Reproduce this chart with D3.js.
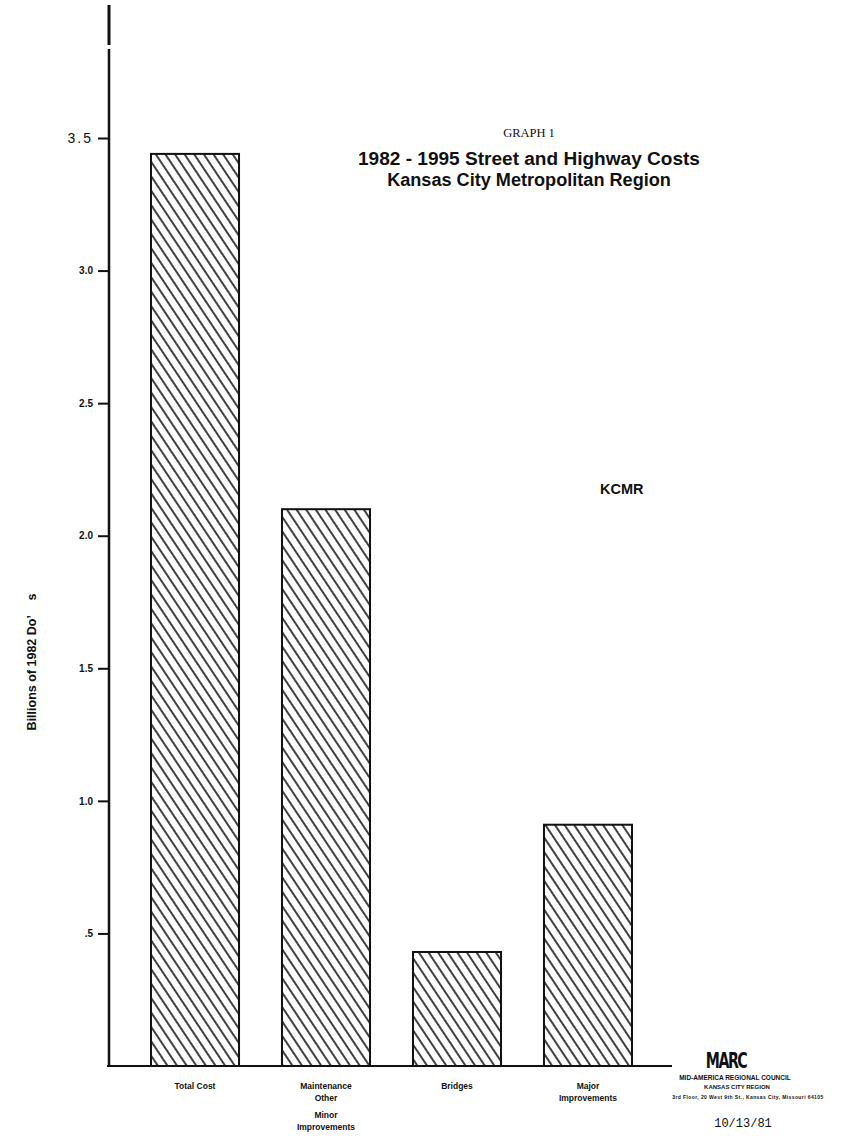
<!DOCTYPE html>
<html>
<head>
<meta charset="utf-8">
<script src="https://cdn.jsdelivr.net/npm/d3@7/dist/d3.min.js"></script>
<style>
  html, body { margin: 0; padding: 0; background: #fff; }
  svg { display: block; }
  text { fill: #111; }
</style>
</head>
<body>
<script>
// Street and highway cost categories, billions of 1982 dollars
const categories = ["Total Cost", "Maintenance Other Minor Improvements", "Bridges", "Major Improvements"];
const values = [3.44, 2.1, 0.43, 0.91];
const categoryLabelLines = [
  ["Total Cost"],
  ["Maintenance", "Other", null, "Minor", "Improvements"],
  ["Bridges"],
  ["Major", "Improvements"]
];
const tickValues = [0.5, 1.0, 1.5, 2.0, 2.5, 3.0, 3.5];
const tickLabels = [".5", "1.0", "1.5", "2.0", "2.5", "3.0", "3.5"];

const W = 841, H = 1142;
const svg = d3.select("body").append("svg").attr("width", W).attr("height", H);

// diagonal hatching used to fill every bar
const defs = svg.append("defs");
const hatch = defs.append("pattern")
  .attr("id", "hatch")
  .attr("patternUnits", "userSpaceOnUse")
  .attr("width", 8).attr("height", 8)
  .attr("patternTransform", "rotate(-33.7)");
hatch.append("rect").attr("width", 8).attr("height", 8).attr("fill", "#fff");
hatch.append("line")
  .attr("x1", 4).attr("y1", -1).attr("x2", 4).attr("y2", 9)
  .attr("stroke", "#111").attr("stroke-width", 1.6);

const x = d3.scaleBand().domain(categories).range([151, 632]).paddingInner(0.328).paddingOuter(0);
const y = d3.scaleLinear().domain([0, 3.5]).range([1066, 138]);
const axisX = 109;
const sans = "'Liberation Sans', Arial, Helvetica, sans-serif";

// bars
svg.append("g").selectAll("rect")
  .data(categories)
  .join("rect")
  .attr("x", d => x(d))
  .attr("y", (d, i) => y(values[i]))
  .attr("width", x.bandwidth())
  .attr("height", (d, i) => y(0) - y(values[i]))
  .attr("fill", "url(#hatch)")
  .attr("stroke", "#111")
  .attr("stroke-width", 2);

// vertical axis
const yAxis = svg.append("g")
  .attr("transform", `translate(${axisX},0)`)
  .call(d3.axisLeft(y).tickValues(tickValues)
    .tickFormat((d, i) => tickLabels[i]).tickSize(11).tickPadding(5));
yAxis.select(".domain").remove();
yAxis.selectAll(".tick line").attr("stroke", "#111").attr("stroke-width", 2);
yAxis.selectAll(".tick text")
  .attr("font-family", sans)
  .attr("font-weight", "bold")
  .attr("font-size", 10)
  .attr("fill", "#111");
yAxis.selectAll(".tick text").filter(d => d === 3.5)
  .attr("font-weight", "normal")
  .attr("font-size", 14)
  .attr("letter-spacing", "2px");

// axis spine, with the break near the top
svg.append("line").attr("x1", axisX).attr("x2", axisX).attr("y1", 5).attr("y2", 45)
  .attr("stroke", "#111").attr("stroke-width", 3);
svg.append("line").attr("x1", axisX).attr("x2", axisX).attr("y1", 49).attr("y2", y(0) + 1)
  .attr("stroke", "#111").attr("stroke-width", 2.5);

// baseline
svg.append("line").attr("x1", axisX - 2).attr("x2", 672).attr("y1", y(0)).attr("y2", y(0))
  .attr("stroke", "#111").attr("stroke-width", 2);

// category labels under the bars
const lab = svg.append("g").attr("font-family", sans).attr("font-weight", "bold").attr("font-size", 8.5);
categories.forEach((c, i) => {
  const cx = x(c) + x.bandwidth() / 2;
  const lines = categoryLabelLines[i];
  const t = lab.append("text").attr("text-anchor", "middle").attr("y", 1089);
  let off = 0;
  lines.forEach((ln) => {
    if (ln === null) { off += 5; return; }
    t.append("tspan").attr("x", cx).attr("y", 1089 + off).text(ln);
    off += 12;
  });
});

// y-axis title
svg.append("text")
  .attr("transform", "translate(36,662) rotate(-90)")
  .attr("text-anchor", "middle")
  .attr("font-family", sans).attr("font-weight", "bold").attr("font-size", 12.5)
  .text("Billions of 1982 Do\u2019")
  .append("tspan").attr("dx", 15).text("s");

// title block
const cxTitle = 529;
svg.append("text").attr("x", cxTitle).attr("y", 137).attr("text-anchor", "middle")
  .attr("font-family", "'Liberation Serif', 'Times New Roman', serif").attr("font-size", 12.5)
  .text("GRAPH 1");
const t1 = svg.append("text").attr("x", cxTitle).attr("y", 165).attr("text-anchor", "middle")
  .attr("font-family", sans).attr("font-weight", "bold").attr("font-size", 18)
  .text("1982 - 1995 Street and Highway Costs");
const t2 = svg.append("text").attr("x", cxTitle).attr("y", 186).attr("text-anchor", "middle")
  .attr("font-family", sans).attr("font-weight", "bold").attr("font-size", 18)
  .text("Kansas City Metropolitan Region");
// fit the title lines to their set widths
[[t1, 342], [t2, 284]].forEach(([t, w]) => {
  const len = t.node().getComputedTextLength();
  t.attr("font-size", 18 * w / len);
});

// region tag
svg.append("text").attr("x", 600).attr("y", 494)
  .attr("font-family", sans).attr("font-weight", "bold").attr("font-size", 14.5)
  .text("KCMR");

// agency mark and address
const logo = svg.append("g");
logo.append("text").attr("x", 726).attr("y", 1068).attr("text-anchor", "middle")
  .attr("font-family", "'DejaVu Sans Condensed', 'DejaVu Sans', sans-serif")
  .attr("font-weight", "bold").attr("font-size", 21).attr("letter-spacing", "-2px")
  .attr("transform", "translate(726,1068) scale(0.75,1) translate(-726,-1068)")
  .text("MARC");
logo.append("text").attr("x", 735).attr("y", 1080).attr("text-anchor", "middle")
  .attr("font-family", sans).attr("font-weight", "bold").attr("font-size", 6.5)
  .text("MID-AMERICA REGIONAL COUNCIL");
logo.append("text").attr("x", 737).attr("y", 1089).attr("text-anchor", "middle")
  .attr("font-family", sans).attr("font-weight", "bold").attr("font-size", 6)
  .text("KANSAS CITY REGION");
logo.append("text").attr("x", 748).attr("y", 1099).attr("text-anchor", "middle")
  .attr("font-family", sans).attr("font-weight", "bold").attr("font-size", 5)
  .attr("letter-spacing", "0.4px")
  .text("3rd Floor, 20 West 9th St., Kansas City, Missouri 64105");

// date stamp
svg.append("text").attr("x", 743).attr("y", 1127).attr("text-anchor", "middle")
  .attr("font-family", "'Liberation Mono', 'Courier New', monospace").attr("font-size", 12)
  .text("10/13/81");
</script>
</body>
</html>
